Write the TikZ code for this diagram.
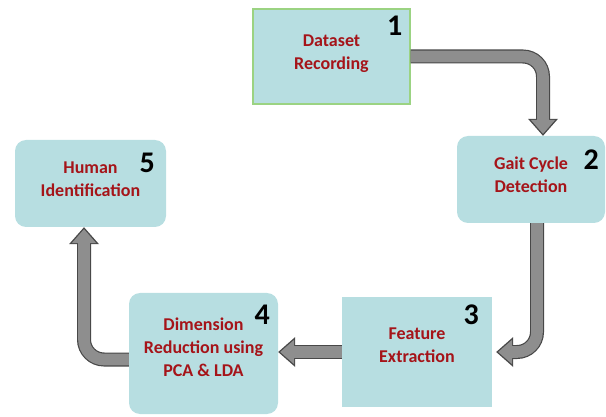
\documentclass[tikz,border=0pt]{standalone}
\usepackage{fontspec}
\setmainfont{Carlito}
\usetikzlibrary{arrows.meta}
\usetikzlibrary{positioning}
\definecolor{boxblue}{RGB}{183, 222, 225}
\definecolor{boxgreen}{RGB}{155, 211, 130}
\definecolor{textred}{RGB}{165, 20, 25}
\definecolor{pipegray}{RGB}{142, 142, 142}
\definecolor{pipeedge}{RGB}{72, 72, 72}

\tikzset{
  box/.style={fill=boxblue, inner sep=0pt},
  txt/.style={text=textred, font=\fontsize{18}{23}\selectfont\bfseries, align=center},
  num/.style={font=\fontsize{30}{30}\selectfont\bfseries, inner sep=0pt},
  pipe/.style={draw=pipeedge, line width=14pt, rounded corners=20pt,
    -{Triangle[width=30pt,length=17pt,line width=0pt]}},
  pipecore/.style={draw=pipegray, line width=11.6pt, rounded corners=20pt, shorten >=2pt,
    -{Triangle[width=24.5pt,length=14pt,line width=0pt]}},
}

\begin{document}
\begin{tikzpicture}[x=1pt, y=-1pt]
  \useasboundingbox (0,0) rectangle (606,417);
  \node[box, draw=boxgreen, line width=1.2pt, minimum width=157pt, minimum height=95pt] (b1) at (331.5,56.5) {};
  \node[box, rounded corners=11pt, minimum width=148pt, minimum height=87pt] (b2) at (531,179.5) {};
  \node[box, minimum width=150pt, minimum height=110pt] (b3) at (417,352) {};
  \node[box, rounded corners=11pt, minimum width=149pt, minimum height=121pt] (b4) at (203.5,353.5) {};
  \node[box, rounded corners=11pt, minimum width=151pt, minimum height=87pt] (b5) at (90.5,183.5) {};

  \node[txt] (t1) at ([yshift=3pt]b1.center) {Dataset\\Recording};
  \node[txt] (t2) at ([yshift=5pt]b2.center) {Gait Cycle\\Detection};
  \node[txt] (t3) at ([yshift=7pt]b3.center) {Feature\\Extraction};
  \node[txt] (t4) at ([yshift=6pt]b4.center) {Dimension\\Reduction using\\PCA \& LDA};
  \node[txt] (t5) at ([yshift=4pt]b5.center) {Human\\Identification};

  \node[num] (n1) at ([xshift=-16pt,yshift=-17pt]b1.north east) {1};
  \node[num] (n2) at ([xshift=-14pt,yshift=-24pt]b2.north east) {2};
  \node[num] (n3) at ([xshift=-21pt,yshift=-18pt]b3.north east) {3};
  \node[num] (n4) at ([xshift=-16pt,yshift=-22pt]b4.north east) {4};
  \node[num] (n5) at ([xshift=-19pt,yshift=-23pt]b5.north east) {5};

  \foreach \pen in {pipe, pipecore} {
    \draw[\pen] (b1.east) -| ([xshift=12pt]b2.north);
    \draw[\pen] ([xshift=6pt]b2.south) |- ([xshift=4pt]b3.east);
    \draw[\pen] (b3.west) -- (b3.west -| b4.east);
    \draw[\pen] ([yshift=-6pt]b4.west) -| ([xshift=-6.5pt]b5.south);
  }
\end{tikzpicture}
\end{document}
